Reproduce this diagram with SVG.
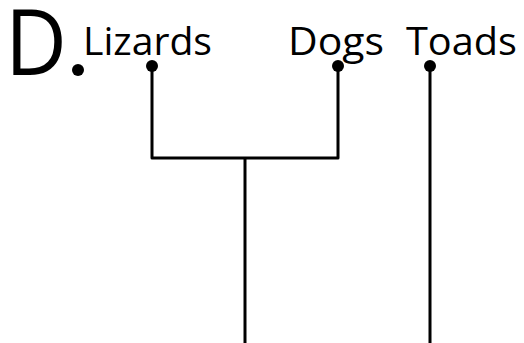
<svg xmlns="http://www.w3.org/2000/svg" width="524" height="343" viewBox="0 0 524 343">
<style>
.lbl{font-family:"Open Sans","Noto Sans",sans-serif;font-size:39px;fill:#000}
.ln{stroke:#000;stroke-width:3;fill:none;stroke-linejoin:round}
</style>
<rect width="524" height="343" fill="#fff"/>
<g id="title">
<text x="5" y="75" style="font-family:'Open Sans','Noto Sans',sans-serif;font-size:91px;fill:#000" textLength="62" lengthAdjust="spacingAndGlyphs">D</text>
<circle cx="78" cy="70" r="6" fill="#000"/>
</g>
<g id="lizards"><text class="lbl" x="83" y="55" textLength="129" lengthAdjust="spacingAndGlyphs">Lizards</text><circle cx="152" cy="66" r="6"/></g>
<g id="dogs"><text class="lbl" x="288" y="55" textLength="96" lengthAdjust="spacingAndGlyphs">Dogs</text><circle cx="338" cy="66" r="6"/></g>
<g id="toads"><text class="lbl" x="406" y="55" textLength="111" lengthAdjust="spacingAndGlyphs">Toads</text><circle cx="430" cy="66" r="6"/></g>
<g id="connectors">
<path class="ln" d="M152 66V158H338V66"/>
<path class="ln" d="M245 158V343"/>
<path class="ln" d="M430 66V343"/>
</g>
</svg>
